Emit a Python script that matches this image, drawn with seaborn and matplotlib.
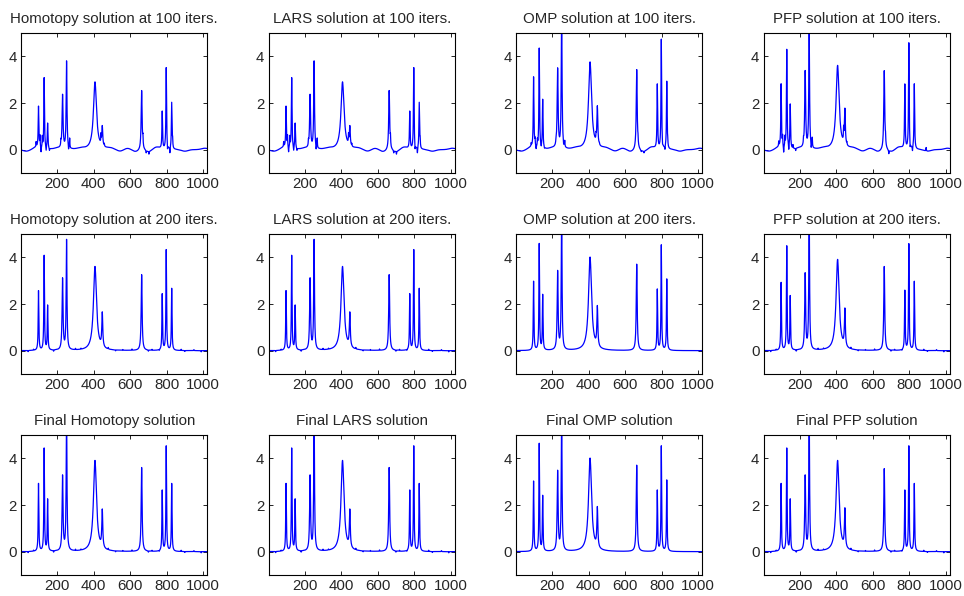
import numpy as np
import pandas as pd
import seaborn as sns
import matplotlib.pyplot as plt

# signal length and common peak layout
N_SAMPLES = 1024
PEAK_POS = [97, 128, 147, 229, 251, 407, 447, 663, 776, 798, 828]
PEAK_HWHM = [2.0, 2.0, 2.0, 3.0, 2.5, 10.0, 3.0, 3.0, 2.0, 2.0, 2.0]

TITLES = [
    "Homotopy solution at 100 iters.", "LARS solution at 100 iters.",
    "OMP solution at 100 iters.", "PFP solution at 100 iters.",
    "Homotopy solution at 200 iters.", "LARS solution at 200 iters.",
    "OMP solution at 200 iters.", "PFP solution at 200 iters.",
    "Final Homotopy solution", "Final LARS solution",
    "Final OMP solution", "Final PFP solution",
]

# peak amplitudes per panel (same order as PEAK_POS)
homotopy_100 = [1.75, 3.05, 1.10, 2.30, 3.75, 2.90, 0.85, 2.55, 1.60, 3.50, 2.00]
lars_100     = [1.75, 3.05, 1.10, 2.30, 3.75, 2.90, 0.85, 2.55, 1.60, 3.50, 2.00]
omp_100      = [3.00, 4.30, 2.10, 3.40, 6.00, 3.75, 1.65, 3.45, 2.75, 4.70, 2.90]
pfp_100      = [2.70, 4.25, 1.90, 3.30, 4.90, 3.60, 1.55, 3.40, 2.75, 4.55, 2.80]
homotopy_200 = [2.55, 4.05, 1.90, 3.05, 4.70, 3.60, 1.45, 3.25, 2.40, 4.30, 2.65]
lars_200     = [2.55, 4.05, 1.90, 3.05, 4.70, 3.60, 1.45, 3.25, 2.40, 4.30, 2.65]
omp_200      = [2.95, 4.55, 2.35, 3.35, 6.00, 4.00, 1.70, 3.70, 2.60, 4.50, 3.05]
pfp_200      = [2.90, 4.45, 2.30, 3.25, 6.00, 3.90, 1.60, 3.60, 2.55, 4.55, 2.95]
homotopy_fin = [2.90, 4.40, 2.20, 3.20, 6.00, 3.90, 1.60, 3.60, 2.60, 4.50, 2.90]
lars_fin     = [2.90, 4.40, 2.20, 3.20, 6.00, 3.90, 1.60, 3.60, 2.60, 4.50, 2.90]
omp_fin      = [3.00, 4.60, 2.35, 3.40, 6.00, 4.00, 1.70, 3.70, 2.60, 4.50, 3.05]
pfp_fin      = [2.90, 4.40, 2.20, 3.20, 6.00, 3.90, 1.65, 3.55, 2.60, 4.50, 2.90]

# spurious spikes of the early iterates (position, height)
spike_pos_100 = [84, 105, 111, 118, 139, 157, 220, 262, 268, 440, 458, 670, 688, 703, 805, 818, 833]
spike_h_100   = [0.2, 0.45, -0.25, 0.45, -0.2, -0.1, 0.2, -0.2, 0.4, 0.35, 0.1, 0.35, -0.1, -0.12, -0.25, -0.25, 0.3]
spike_pos_pfp = [84, 105, 111, 118, 139, 162, 177, 220, 262, 268, 440, 458, 670, 688, 805, 818, 893]
spike_h_pfp   = [0.2, 0.4, -0.3, 0.4, -0.25, 0.15, -0.1, 0.2, -0.2, 0.4, 0.5, 0.1, 0.3, -0.15, -0.25, -0.2, 0.15]

# slow baseline ripple of the early iterates (position, amplitude)
ripple_pos = [30, 88, 200, 330, 490, 545, 585, 630, 700, 745, 900, 1010]
ripple_amp = [-0.07, 0.1, 0.05, 0.05, 0.05, -0.08, 0.05, -0.1, -0.1, 0.1, -0.07, 0.06]

# small wiggles of the later, noisier iterates (position, height)
jitter_pos = [40, 70, 180, 300, 330, 480, 520, 560, 610, 700, 720, 760, 880, 900, 950, 990]
jitter_h   = [-0.05, 0.04, -0.06, 0.05, 0.04, 0.06, -0.04, 0.03, 0.05, -0.05, 0.04, -0.04, 0.05, -0.04, 0.04, -0.05]

PANEL_HEIGHTS = [homotopy_100, lars_100, omp_100, pfp_100,
                 homotopy_200, lars_200, omp_200, pfp_200,
                 homotopy_fin, lars_fin, omp_fin, pfp_fin]


def lorentz(x, pos, h, w):
    return h * w ** 2 / ((x - pos) ** 2 + w ** 2)


def build_signal(i):
    x = np.arange(1, N_SAMPLES + 1)
    y = np.zeros(N_SAMPLES)
    for p, h, w in zip(PEAK_POS, PANEL_HEIGHTS[i], PEAK_HWHM):
        y += lorentz(x, p, h, w)
    if i < 4:
        sp, sh = (spike_pos_pfp, spike_h_pfp) if i == 3 else (spike_pos_100, spike_h_100)
        if i == 2:
            sh = [0.6 * v for v in sh]
        for p, h in zip(sp, sh):
            y += lorentz(x, p, h, 1.2)
        for p, a in zip(ripple_pos, ripple_amp):
            y += a * np.exp(-0.5 * ((x - p) / 18.0) ** 2)
    elif i not in (6, 10):
        for p, h in zip(jitter_pos, jitter_h):
            y += lorentz(x, p, h, 1.0)
    return pd.DataFrame({"n": x, "value": y})


sns.set_style("ticks")
plt.rcParams["font.family"] = ["Liberation Sans", "DejaVu Sans"]
plt.rcParams["font.size"] = 10.5

fig, axes = plt.subplots(3, 4, figsize=(9.64, 5.96), dpi=100)
fig.subplots_adjust(left=0.0218, right=0.9855, top=0.9446, bottom=0.0352,
                    wspace=0.328, hspace=0.436)

for i, ax in enumerate(axes.flat):
    df = build_signal(i)
    sns.lineplot(data=df, x="n", y="value", ax=ax, color="#0000ff",
                 linewidth=0.9, errorbar=None, sort=False)
    ax.set_xlim(1, N_SAMPLES)
    ax.set_ylim(-1, 5)
    ax.set_xticks([200, 400, 600, 800, 1000])
    ax.set_yticks([0, 2, 4])
    ax.set_xlabel("")
    ax.set_ylabel("")
    ax.set_title(TITLES[i], fontsize=10.8, pad=7)
    ax.tick_params(direction="in", length=3, width=0.6, top=True, right=True,
                   labelsize=10.8, pad=3, color="black")
    for s in ax.spines.values():
        s.set_visible(True)
        s.set_linewidth(0.8)
        s.set_color("black")

fig.savefig("out.png", dpi=100)
